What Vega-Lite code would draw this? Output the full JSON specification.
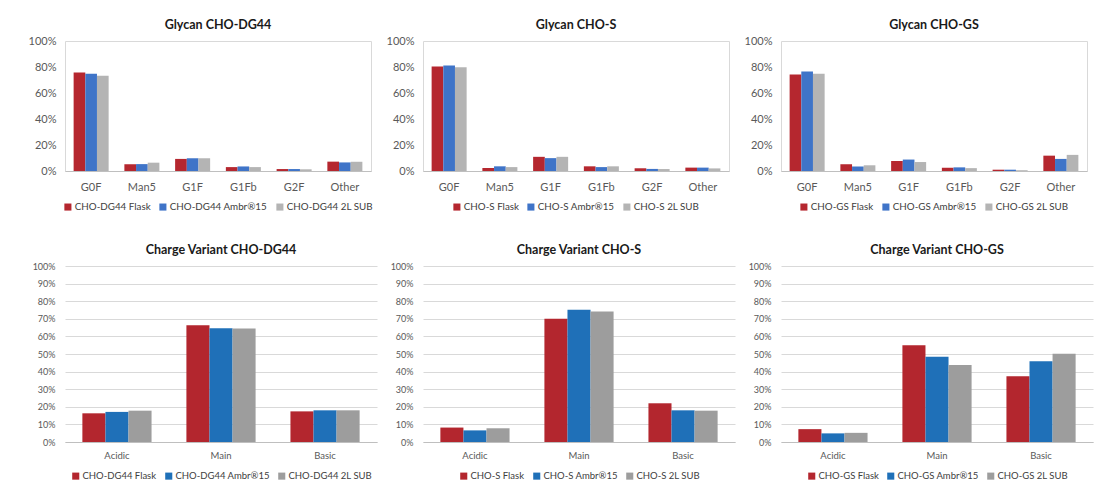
{
  "$schema": "https://vega.github.io/schema/vega-lite/v6.json",
  "background": "white",
  "padding": {"left": 27, "top": 18, "right": 5, "bottom": 5},
  "datasets": {
    "glycan": [
      {"cell": "CHO-DG44", "peak": "G0F", "run": "Flask", "value": 75.8},
      {"cell": "CHO-DG44", "peak": "G0F", "run": "Ambr®15", "value": 74.8},
      {"cell": "CHO-DG44", "peak": "G0F", "run": "2L SUB", "value": 73.3},
      {"cell": "CHO-DG44", "peak": "Man5", "run": "Flask", "value": 5.2},
      {"cell": "CHO-DG44", "peak": "Man5", "run": "Ambr®15", "value": 5.3},
      {"cell": "CHO-DG44", "peak": "Man5", "run": "2L SUB", "value": 6.4},
      {"cell": "CHO-DG44", "peak": "G1F", "run": "Flask", "value": 9.3},
      {"cell": "CHO-DG44", "peak": "G1F", "run": "Ambr®15", "value": 9.8},
      {"cell": "CHO-DG44", "peak": "G1F", "run": "2L SUB", "value": 9.8},
      {"cell": "CHO-DG44", "peak": "G1Fb", "run": "Flask", "value": 3.0},
      {"cell": "CHO-DG44", "peak": "G1Fb", "run": "Ambr®15", "value": 3.5},
      {"cell": "CHO-DG44", "peak": "G1Fb", "run": "2L SUB", "value": 3.0},
      {"cell": "CHO-DG44", "peak": "G2F", "run": "Flask", "value": 1.5},
      {"cell": "CHO-DG44", "peak": "G2F", "run": "Ambr®15", "value": 1.5},
      {"cell": "CHO-DG44", "peak": "G2F", "run": "2L SUB", "value": 1.3},
      {"cell": "CHO-DG44", "peak": "Other", "run": "Flask", "value": 7.2},
      {"cell": "CHO-DG44", "peak": "Other", "run": "Ambr®15", "value": 6.6},
      {"cell": "CHO-DG44", "peak": "Other", "run": "2L SUB", "value": 7.1},
      {"cell": "CHO-S", "peak": "G0F", "run": "Flask", "value": 80.4},
      {"cell": "CHO-S", "peak": "G0F", "run": "Ambr®15", "value": 81.2},
      {"cell": "CHO-S", "peak": "G0F", "run": "2L SUB", "value": 79.8},
      {"cell": "CHO-S", "peak": "Man5", "run": "Flask", "value": 2.3},
      {"cell": "CHO-S", "peak": "Man5", "run": "Ambr®15", "value": 3.6},
      {"cell": "CHO-S", "peak": "Man5", "run": "2L SUB", "value": 3.0},
      {"cell": "CHO-S", "peak": "G1F", "run": "Flask", "value": 10.9},
      {"cell": "CHO-S", "peak": "G1F", "run": "Ambr®15", "value": 9.9},
      {"cell": "CHO-S", "peak": "G1F", "run": "2L SUB", "value": 10.9},
      {"cell": "CHO-S", "peak": "G1Fb", "run": "Flask", "value": 3.6},
      {"cell": "CHO-S", "peak": "G1Fb", "run": "Ambr®15", "value": 3.0},
      {"cell": "CHO-S", "peak": "G1Fb", "run": "2L SUB", "value": 3.6},
      {"cell": "CHO-S", "peak": "G2F", "run": "Flask", "value": 2.1},
      {"cell": "CHO-S", "peak": "G2F", "run": "Ambr®15", "value": 1.6},
      {"cell": "CHO-S", "peak": "G2F", "run": "2L SUB", "value": 1.5},
      {"cell": "CHO-S", "peak": "Other", "run": "Flask", "value": 2.6},
      {"cell": "CHO-S", "peak": "Other", "run": "Ambr®15", "value": 2.6},
      {"cell": "CHO-S", "peak": "Other", "run": "2L SUB", "value": 2.0},
      {"cell": "CHO-GS", "peak": "G0F", "run": "Flask", "value": 74.2},
      {"cell": "CHO-GS", "peak": "G0F", "run": "Ambr®15", "value": 76.6},
      {"cell": "CHO-GS", "peak": "G0F", "run": "2L SUB", "value": 74.8},
      {"cell": "CHO-GS", "peak": "Man5", "run": "Flask", "value": 5.2},
      {"cell": "CHO-GS", "peak": "Man5", "run": "Ambr®15", "value": 3.4},
      {"cell": "CHO-GS", "peak": "Man5", "run": "2L SUB", "value": 4.4},
      {"cell": "CHO-GS", "peak": "G1F", "run": "Flask", "value": 7.7},
      {"cell": "CHO-GS", "peak": "G1F", "run": "Ambr®15", "value": 8.8},
      {"cell": "CHO-GS", "peak": "G1F", "run": "2L SUB", "value": 6.9},
      {"cell": "CHO-GS", "peak": "G1Fb", "run": "Flask", "value": 2.5},
      {"cell": "CHO-GS", "peak": "G1Fb", "run": "Ambr®15", "value": 2.8},
      {"cell": "CHO-GS", "peak": "G1Fb", "run": "2L SUB", "value": 2.2},
      {"cell": "CHO-GS", "peak": "G2F", "run": "Flask", "value": 1.0},
      {"cell": "CHO-GS", "peak": "G2F", "run": "Ambr®15", "value": 1.0},
      {"cell": "CHO-GS", "peak": "G2F", "run": "2L SUB", "value": 0.6},
      {"cell": "CHO-GS", "peak": "Other", "run": "Flask", "value": 11.8},
      {"cell": "CHO-GS", "peak": "Other", "run": "Ambr®15", "value": 9.3},
      {"cell": "CHO-GS", "peak": "Other", "run": "2L SUB", "value": 12.4}
    ],
    "charge": [
      {"cell": "CHO-DG44", "variant": "Acidic", "run": "Flask", "value": 16.3},
      {"cell": "CHO-DG44", "variant": "Acidic", "run": "Ambr®15", "value": 17.1},
      {"cell": "CHO-DG44", "variant": "Acidic", "run": "2L SUB", "value": 17.8},
      {"cell": "CHO-DG44", "variant": "Main", "run": "Flask", "value": 66.4},
      {"cell": "CHO-DG44", "variant": "Main", "run": "Ambr®15", "value": 64.7},
      {"cell": "CHO-DG44", "variant": "Main", "run": "2L SUB", "value": 64.5},
      {"cell": "CHO-DG44", "variant": "Basic", "run": "Flask", "value": 17.4},
      {"cell": "CHO-DG44", "variant": "Basic", "run": "Ambr®15", "value": 18.0},
      {"cell": "CHO-DG44", "variant": "Basic", "run": "2L SUB", "value": 18.0},
      {"cell": "CHO-S", "variant": "Acidic", "run": "Flask", "value": 8.2},
      {"cell": "CHO-S", "variant": "Acidic", "run": "Ambr®15", "value": 6.6},
      {"cell": "CHO-S", "variant": "Acidic", "run": "2L SUB", "value": 7.8},
      {"cell": "CHO-S", "variant": "Main", "run": "Flask", "value": 70.0},
      {"cell": "CHO-S", "variant": "Main", "run": "Ambr®15", "value": 75.1},
      {"cell": "CHO-S", "variant": "Main", "run": "2L SUB", "value": 74.2},
      {"cell": "CHO-S", "variant": "Basic", "run": "Flask", "value": 22.0},
      {"cell": "CHO-S", "variant": "Basic", "run": "Ambr®15", "value": 18.0},
      {"cell": "CHO-S", "variant": "Basic", "run": "2L SUB", "value": 17.8},
      {"cell": "CHO-GS", "variant": "Acidic", "run": "Flask", "value": 7.3},
      {"cell": "CHO-GS", "variant": "Acidic", "run": "Ambr®15", "value": 4.9},
      {"cell": "CHO-GS", "variant": "Acidic", "run": "2L SUB", "value": 5.2},
      {"cell": "CHO-GS", "variant": "Main", "run": "Flask", "value": 55.0},
      {"cell": "CHO-GS", "variant": "Main", "run": "Ambr®15", "value": 48.4},
      {"cell": "CHO-GS", "variant": "Main", "run": "2L SUB", "value": 43.8},
      {"cell": "CHO-GS", "variant": "Basic", "run": "Flask", "value": 37.3},
      {"cell": "CHO-GS", "variant": "Basic", "run": "Ambr®15", "value": 45.9},
      {"cell": "CHO-GS", "variant": "Basic", "run": "2L SUB", "value": 50.1}
    ]
  },
  "config": {
    "font": "Lato",
    "bounds": "flush",
    "view": {"stroke": "#D9D9D9"},
    "title": {"fontSize": 12.5, "fontWeight": "bold", "color": "#1a1a1a", "font": "Lato", "anchor": "middle", "offset": 5.5},
    "axis": {"labelColor": "#595959", "ticks": false, "domainColor": "#BFBFBF", "labelFont": "Lato", "title": null},
    "legend": {
      "orient": "bottom", "direction": "horizontal", "title": null,
      "symbolType": "square", "symbolSize": 50, "symbolStrokeWidth": 0,
      "labelColor": "#404040", "labelFont": "Lato", "columnPadding": 7, "labelOffset": 2,
      "layout": {"bottom": {"anchor": "middle", "bounds": "full"}}
    }
  },
  "vconcat": [
    {
      "bounds": "flush",
      "spacing": 52,
      "hconcat": [
        {
          "data": {"name": "glycan"},
          "transform": [{"filter": "datum.cell == 'CHO-DG44'"}],
          "width": 306, "height": 130,
          "title": {"text": "Glycan CHO-DG44", "offset": 4},
          "mark": {"type": "bar"},
          "encoding": {
            "x": {"field": "peak", "type": "nominal", "sort": ["G0F", "Man5", "G1F", "G1Fb", "G2F", "Other"], "scale": {"paddingInner": 0.31, "paddingOuter": 0.17}, "axis": {"labelAngle": 0, "labelFontSize": 11, "labelPadding": 10}},
            "xOffset": {"field": "run", "type": "nominal", "sort": ["Flask", "Ambr®15", "2L SUB"], "scale": {"paddingInner": 0, "paddingOuter": 0}},
            "y": {"field": "value", "type": "quantitative", "scale": {"domain": [0, 100]}, "axis": {"values": [0, 20, 40, 60, 80, 100], "labelExpr": "datum.value + '%'", "grid": false, "domain": false, "labelFontSize": 11, "labelPadding": 9}},
            "color": {"field": "run", "type": "nominal", "scale": {"domain": ["Flask", "Ambr®15", "2L SUB"], "range": ["#B5272F", "#3F74C8", "#B4B4B4"]}, "legend": {"labelExpr": "'CHO-DG44 ' + datum.label", "labelFontSize": 9.8, "offset": 10}}
          }
        },
        {
          "data": {"name": "glycan"},
          "transform": [{"filter": "datum.cell == 'CHO-S'"}],
          "width": 306, "height": 130,
          "title": {"text": "Glycan CHO-S", "offset": 4},
          "mark": {"type": "bar"},
          "encoding": {
            "x": {"field": "peak", "type": "nominal", "sort": ["G0F", "Man5", "G1F", "G1Fb", "G2F", "Other"], "scale": {"paddingInner": 0.31, "paddingOuter": 0.17}, "axis": {"labelAngle": 0, "labelFontSize": 11, "labelPadding": 10}},
            "xOffset": {"field": "run", "type": "nominal", "sort": ["Flask", "Ambr®15", "2L SUB"], "scale": {"paddingInner": 0, "paddingOuter": 0}},
            "y": {"field": "value", "type": "quantitative", "scale": {"domain": [0, 100]}, "axis": {"values": [0, 20, 40, 60, 80, 100], "labelExpr": "datum.value + '%'", "grid": false, "domain": false, "labelFontSize": 11, "labelPadding": 9}},
            "color": {"field": "run", "type": "nominal", "scale": {"domain": ["Flask", "Ambr®15", "2L SUB"], "range": ["#B5272F", "#3F74C8", "#B4B4B4"]}, "legend": {"labelExpr": "'CHO-S ' + datum.label", "labelFontSize": 9.8, "offset": 10}}
          }
        },
        {
          "data": {"name": "glycan"},
          "transform": [{"filter": "datum.cell == 'CHO-GS'"}],
          "width": 306, "height": 130,
          "title": {"text": "Glycan CHO-GS", "offset": 4},
          "mark": {"type": "bar"},
          "encoding": {
            "x": {"field": "peak", "type": "nominal", "sort": ["G0F", "Man5", "G1F", "G1Fb", "G2F", "Other"], "scale": {"paddingInner": 0.31, "paddingOuter": 0.17}, "axis": {"labelAngle": 0, "labelFontSize": 11, "labelPadding": 10}},
            "xOffset": {"field": "run", "type": "nominal", "sort": ["Flask", "Ambr®15", "2L SUB"], "scale": {"paddingInner": 0, "paddingOuter": 0}},
            "y": {"field": "value", "type": "quantitative", "scale": {"domain": [0, 100]}, "axis": {"values": [0, 20, 40, 60, 80, 100], "labelExpr": "datum.value + '%'", "grid": false, "domain": false, "labelFontSize": 11, "labelPadding": 9}},
            "color": {"field": "run", "type": "nominal", "scale": {"domain": ["Flask", "Ambr®15", "2L SUB"], "range": ["#B5272F", "#3F74C8", "#B4B4B4"]}, "legend": {"labelExpr": "'CHO-GS ' + datum.label", "labelFontSize": 9.8, "offset": 10}}
          }
        }
      ],
      "resolve": {"scale": {"color": "independent", "xOffset": "independent"}, "legend": {"color": "independent"}}
    },
    {
      "bounds": "flush",
      "spacing": 46,
      "hconcat": [
        {
          "data": {"name": "charge"},
          "transform": [{"filter": "datum.cell == 'CHO-DG44'"}],
          "width": 312, "height": 176,
          "view": {"stroke": null},
          "title": "Charge Variant CHO-DG44",
          "mark": {"type": "bar"},
          "encoding": {
            "x": {"field": "variant", "type": "nominal", "sort": ["Acidic", "Main", "Basic"], "scale": {"paddingInner": 0.335, "paddingOuter": 0.167}, "axis": {"labelAngle": 0, "labelFontSize": 9.5, "labelPadding": 8}},
            "xOffset": {"field": "run", "type": "nominal", "sort": ["Flask", "Ambr®15", "2L SUB"], "scale": {"paddingInner": 0, "paddingOuter": 0}},
            "y": {"field": "value", "type": "quantitative", "scale": {"domain": [0, 100]}, "axis": {"values": [0, 10, 20, 30, 40, 50, 60, 70, 80, 90, 100], "labelExpr": "datum.value + '%'", "grid": true, "gridColor": "#D9D9D9", "domain": false, "labelFontSize": 9, "labelPadding": 10}},
            "color": {"field": "run", "type": "nominal", "scale": {"domain": ["Flask", "Ambr®15", "2L SUB"], "range": ["#B3262E", "#1F70B8", "#9D9D9D"]}, "legend": {"labelExpr": "'CHO-DG44 ' + datum.label", "labelFontSize": 9.5, "offset": 11}}
          }
        },
        {
          "data": {"name": "charge"},
          "transform": [{"filter": "datum.cell == 'CHO-S'"}],
          "width": 312, "height": 176,
          "view": {"stroke": null},
          "title": "Charge Variant CHO-S",
          "mark": {"type": "bar"},
          "encoding": {
            "x": {"field": "variant", "type": "nominal", "sort": ["Acidic", "Main", "Basic"], "scale": {"paddingInner": 0.335, "paddingOuter": 0.167}, "axis": {"labelAngle": 0, "labelFontSize": 9.5, "labelPadding": 8}},
            "xOffset": {"field": "run", "type": "nominal", "sort": ["Flask", "Ambr®15", "2L SUB"], "scale": {"paddingInner": 0, "paddingOuter": 0}},
            "y": {"field": "value", "type": "quantitative", "scale": {"domain": [0, 100]}, "axis": {"values": [0, 10, 20, 30, 40, 50, 60, 70, 80, 90, 100], "labelExpr": "datum.value + '%'", "grid": true, "gridColor": "#D9D9D9", "domain": false, "labelFontSize": 9, "labelPadding": 10}},
            "color": {"field": "run", "type": "nominal", "scale": {"domain": ["Flask", "Ambr®15", "2L SUB"], "range": ["#B3262E", "#1F70B8", "#9D9D9D"]}, "legend": {"labelExpr": "'CHO-S ' + datum.label", "labelFontSize": 9.5, "offset": 11}}
          }
        },
        {
          "data": {"name": "charge"},
          "transform": [{"filter": "datum.cell == 'CHO-GS'"}],
          "width": 312, "height": 176,
          "view": {"stroke": null},
          "title": "Charge Variant CHO-GS",
          "mark": {"type": "bar"},
          "encoding": {
            "x": {"field": "variant", "type": "nominal", "sort": ["Acidic", "Main", "Basic"], "scale": {"paddingInner": 0.335, "paddingOuter": 0.167}, "axis": {"labelAngle": 0, "labelFontSize": 9.5, "labelPadding": 8}},
            "xOffset": {"field": "run", "type": "nominal", "sort": ["Flask", "Ambr®15", "2L SUB"], "scale": {"paddingInner": 0, "paddingOuter": 0}},
            "y": {"field": "value", "type": "quantitative", "scale": {"domain": [0, 100]}, "axis": {"values": [0, 10, 20, 30, 40, 50, 60, 70, 80, 90, 100], "labelExpr": "datum.value + '%'", "grid": true, "gridColor": "#D9D9D9", "domain": false, "labelFontSize": 9, "labelPadding": 10}},
            "color": {"field": "run", "type": "nominal", "scale": {"domain": ["Flask", "Ambr®15", "2L SUB"], "range": ["#B3262E", "#1F70B8", "#9D9D9D"]}, "legend": {"labelExpr": "'CHO-GS ' + datum.label", "labelFontSize": 9.5, "offset": 11}}
          }
        }
      ],
      "resolve": {"scale": {"color": "independent", "xOffset": "independent"}, "legend": {"color": "independent"}}
    }
  ],
  "spacing": 31,
  "resolve": {"scale": {"color": "independent", "xOffset": "independent"}, "legend": {"color": "independent"}}
}
